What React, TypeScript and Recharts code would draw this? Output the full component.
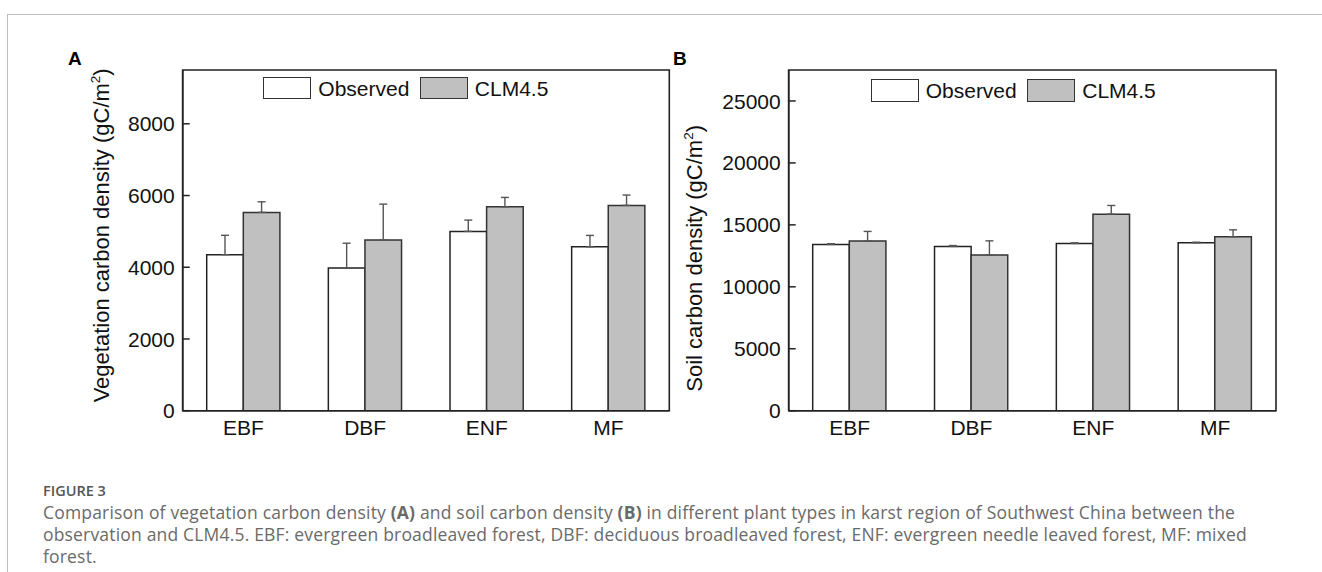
import React from 'react';
import { BarChart, Bar, XAxis, YAxis, ErrorBar, Legend, ReferenceArea } from 'recharts';

const categories = ['EBF', 'DBF', 'ENF', 'MF'];
const vegObserved = [4350, 3980, 5000, 4570];
const vegObservedErr = [540, 690, 315, 318];
const vegClm = [5530, 4760, 5685, 5725];
const vegClmErr = [295, 1000, 262, 288];
const soilObserved = [13420, 13260, 13500, 13550];
const soilObservedErr = [60, 70, 50, 50];
const soilClm = [13690, 12560, 15865, 14035];
const soilClmErr = [780, 1150, 700, 565];
const vegTicks = [0, 2000, 4000, 6000, 8000];
const soilTicks = [0, 5000, 10000, 15000, 20000, 25000];
const seriesOrder = ['obs', 'clm'];
const seriesNames = { obs: 'Observed', clm: 'CLM4.5' };

const FONT = '"Liberation Sans", Arial, sans-serif';
const FILLS: Record<string, string> = { obs: '#ffffff', clm: '#c0c0c0' };

const buildRows = (obs: number[], obsErr: number[], clm: number[], clmErr: number[]) =>
  categories.map((c, i) => ({
    cat: c,
    obs: obs[i],
    obsErr: [0, obsErr[i]],
    clm: clm[i],
    clmErr: [0, clmErr[i]],
  }));

const vegData = buildRows(vegObserved, vegObservedErr, vegClm, vegClmErr);
const soilData = buildRows(soilObserved, soilObservedErr, soilClm, soilClmErr);

const YTick = (props: any) => {
  const { x, y, payload } = props;
  const ax = x + 8;
  return (
    <g>
      <line x1={ax} x2={ax + 7} y1={y} y2={y} stroke="#222" strokeWidth={1.5} />
      <text x={x} y={y} dy="0.36em" textAnchor="end" fontSize={21} fill="#111" fontFamily={FONT}>
        {payload.value}
      </text>
    </g>
  );
};

const makeLegend = () => (props: any) => {
  const payload = [...(props.payload || [])].sort(
    (a: any, b: any) => seriesOrder.indexOf(a.dataKey) - seriesOrder.indexOf(b.dataKey)
  );
  return (
    <div style={{ display: 'flex', alignItems: 'center', fontFamily: FONT, fontSize: 21, color: '#111', lineHeight: '23px', whiteSpace: 'nowrap' }}>
      {payload.map((p: any, i: number) => (
        <div key={i} style={{ display: 'flex', alignItems: 'center', marginRight: i === 0 ? 10.5 : 0 }}>
          <div style={{ boxSizing: 'border-box', width: 48, height: 22.6, border: '1.5px solid #333', background: FILLS[p.dataKey] }} />
          <span style={{ marginLeft: 7 }}>{p.value}</span>
        </div>
      ))}
    </div>
  );
};

const makeYLabel = (text: string, dx: number, dyc: number) => (props: any) => {
  const vb = props.viewBox || {};
  const cx = vb.x + dx;
  const cy = vb.y + vb.height / 2 + dyc;
  return (
    <text transform={`translate(${cx},${cy}) rotate(-90)`} textAnchor="middle" fontSize={22} fill="#111" fontFamily={FONT}>
      {text}
      <tspan dy={-9} fontSize={13.5}>2</tspan>
      <tspan dy={9}>)</tspan>
    </text>
  );
};

type PanelProps = {
  data: any[];
  ticks: number[];
  domain: [number, number];
  width: number;
  height: number;
  margin: { top: number; right: number; bottom: number; left: number };
  label: string;
  labelDx: number;
  labelDy: number;
  legendLeft: number;
  legendTop: number;
};

const Panel = (p: PanelProps) => (
  <BarChart width={p.width} height={p.height} data={p.data} margin={p.margin} barGap={0}>
    <XAxis
      dataKey="cat"
      tickLine={false}
      tickSize={0}
      tickMargin={9.4}
      height={30}
      interval={0}
      axisLine={{ stroke: '#222', strokeWidth: 1.6 }}
      tick={{ fontSize: 21, fill: '#111', fontFamily: FONT }}
    />
    <YAxis
      domain={p.domain}
      ticks={p.ticks}
      interval={0}
      width={80}
      tickLine={false}
      tickSize={8}
      tickMargin={0}
      allowDataOverflow
      axisLine={{ stroke: '#222', strokeWidth: 1.6 }}
      tick={<YTick />}
      label={makeYLabel(p.label, p.labelDx, p.labelDy)}
    />
    <Legend
      layout="horizontal"
      verticalAlign="middle"
      align="center"
      content={makeLegend()}
      wrapperStyle={{ left: p.legendLeft, top: p.legendTop, width: 'auto', margin: 0, padding: 0 }}
    />
    <Bar dataKey="obs" name={seriesNames.obs} fill={FILLS.obs} stroke="#222" strokeWidth={1.5} barSize={36.6} isAnimationActive={false}>
      <ErrorBar dataKey="obsErr" width={4} stroke="#555" strokeWidth={1.4} direction="y" isAnimationActive={false} />
    </Bar>
    <Bar dataKey="clm" name={seriesNames.clm} fill={FILLS.clm} stroke="#333" strokeWidth={1.5} barSize={36.6} isAnimationActive={false}>
      <ErrorBar dataKey="clmErr" width={4} stroke="#555" strokeWidth={1.4} direction="y" isAnimationActive={false} />
    </Bar>
    <ReferenceArea
      x1={categories[0]}
      x2={categories[categories.length - 1]}
      y1={p.domain[0]}
      y2={p.domain[1]}
      fill="none"
      fillOpacity={0}
      stroke="#222"
      strokeWidth={1.6}
      ifOverflow="visible"
    />
  </BarChart>
);

const CAP = '"Open Sans", "Noto Sans", sans-serif';

export default function App() {
  return (
    <div style={{ position: 'fixed', top: 0, left: 0, width: 1322, height: 572, background: '#fff', overflow: 'hidden' }}>
      <div style={{ position: 'absolute', left: 7, top: 14, right: 0, height: 1, background: '#bdbdbd' }} />
      <div style={{ position: 'absolute', left: 7, top: 14, bottom: 0, width: 1, background: '#bdbdbd' }} />
      <div style={{ position: 'absolute', left: 0, top: 0 }}>
        <Panel
          data={vegData}
          ticks={vegTicks}
          domain={[0, 9500]}
          width={700}
          height={460}
          margin={{ top: 70, right: 30.7, bottom: 19.3, left: 102.7 }}
          label="Vegetation carbon density (gC/m"
          labelDx={6.5}
          labelDy={-5}
          legendLeft={263.3}
          legendTop={76.7}
        />
      </div>
      <div style={{ position: 'absolute', left: 660, top: 0 }}>
        <Panel
          data={soilData}
          ticks={soilTicks}
          domain={[0, 27500]}
          width={640}
          height={460}
          margin={{ top: 70, right: 24, bottom: 19.3, left: 48.7 }}
          label="Soil carbon density (gC/m"
          labelDx={-7}
          labelDy={18}
          legendLeft={210.7}
          legendTop={79}
        />
      </div>
      <svg width={1322} height={572} style={{ position: 'absolute', left: 0, top: 0, pointerEvents: 'none' }}>
        <text x={68} y={65} fontSize={19} fontWeight="bold" fill="#000" fontFamily={FONT}>A</text>
        <text x={673} y={65} fontSize={19} fontWeight="bold" fill="#000" fontFamily={FONT}>B</text>
        <text x={43} y={496} fontSize={14.5} fontWeight={600} fill="#555" fontFamily={CAP}>FIGURE 3</text>
        <text x={43} y={519} fontSize={17.5} letterSpacing={0.18} fill="#6a6a6a" fontFamily={CAP}>
          Comparison of vegetation carbon density <tspan fontWeight="bold">(A)</tspan> and soil carbon density <tspan fontWeight="bold">(B)</tspan> in different plant types in karst region of Southwest China between the
        </text>
        <text x={43} y={541} fontSize={17.5} letterSpacing={0.18} fill="#6a6a6a" fontFamily={CAP}>
          observation and CLM4.5. EBF: evergreen broadleaved forest, DBF: deciduous broadleaved forest, ENF: evergreen needle leaved forest, MF: mixed
        </text>
        <text x={43} y={563} fontSize={17.5} letterSpacing={0.18} fill="#6a6a6a" fontFamily={CAP}>forest.</text>
      </svg>
    </div>
  );
}
